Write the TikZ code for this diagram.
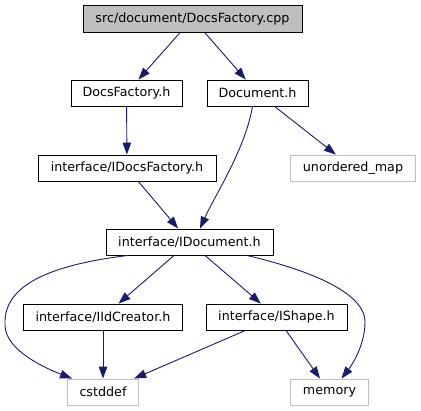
\documentclass[tikz,border=0pt]{standalone}
\usepackage{fontspec}
\setmainfont{DejaVu Sans}
\usetikzlibrary{arrows.meta}
\definecolor{edgeblue}{HTML}{191970}
\definecolor{lgray}{HTML}{BFBFBF}
\begin{document}
\begin{tikzpicture}[x=1bp,y=-1bp,
  box/.style={draw=black,line width=0.9bp,fill=white,inner sep=0pt,minimum height=26bp,font=\fontsize{12.7bp}{14bp}\selectfont},
  extbox/.style={box,draw=lgray},
  rootbox/.style={box,fill=lgray},
  dep/.style={draw=edgeblue,line width=0.9bp,-{Triangle[length=12bp,width=8.5bp,fill=edgeblue]}}]
\useasboundingbox (0,0) rectangle (421,411);
\node[rootbox,minimum width=219bp,minimum height=27bp] (root) at (192.5,18.5) {src/document/DocsFactory.cpp};
\node[box,minimum width=111bp] (dfh) at (126.5,93) {DocsFactory.h};
\node[box,minimum width=101bp] (doch) at (257.5,93) {Document.h};
\node[box,minimum width=178bp] (idf) at (127,168) {interface/IDocsFactory.h};
\node[extbox,minimum width=125bp] (umap) at (353,168) {unordered\_map};
\node[box,minimum width=167bp] (idoc) at (189.5,242) {interface/IDocument.h};
\node[box,minimum width=159bp] (iid) at (103,317) {interface/IIdCreator.h};
\node[box,minimum width=141bp] (ishape) at (276.5,317) {interface/IShape.h};
\node[extbox,minimum width=71bp] (cst) at (103,392) {cstddef};
\node[extbox,minimum width=78bp] (mem) at (329.5,392) {memory};
\coordinate (lbend) at (5,325);
\coordinate (rbend) at (365,322);

\draw[dep] (root) -- (dfh);
\draw[dep] (root) -- (doch);
\draw[dep] (dfh) -- (idf);
\draw[dep] ([xshift=-5bp]doch.south) .. controls (245,150) and (215,195) .. ([xshift=10.5bp]idoc.north);
\draw[dep] (doch) -- (umap);
\draw[dep] (idf) -- (idoc);
\draw[dep] ([xshift=-61.5bp]idoc.south) .. controls (50,265) and (3,285) .. (lbend) .. controls (5,350) and (45,368) .. ([xshift=-31bp]cst.north);
\draw[dep] (idoc) -- (iid);
\draw[dep] (idoc) -- (ishape);
\draw[dep] ([xshift=57.5bp]idoc.south) .. controls (300,268) and (365,290) .. (rbend) .. controls (365,345) and (352,365) .. ([xshift=12bp]mem.north);
\draw[dep] (iid) -- (cst);
\draw[dep] (ishape) -- (cst);
\draw[dep] (ishape) -- (mem);
\end{tikzpicture}
\end{document}
